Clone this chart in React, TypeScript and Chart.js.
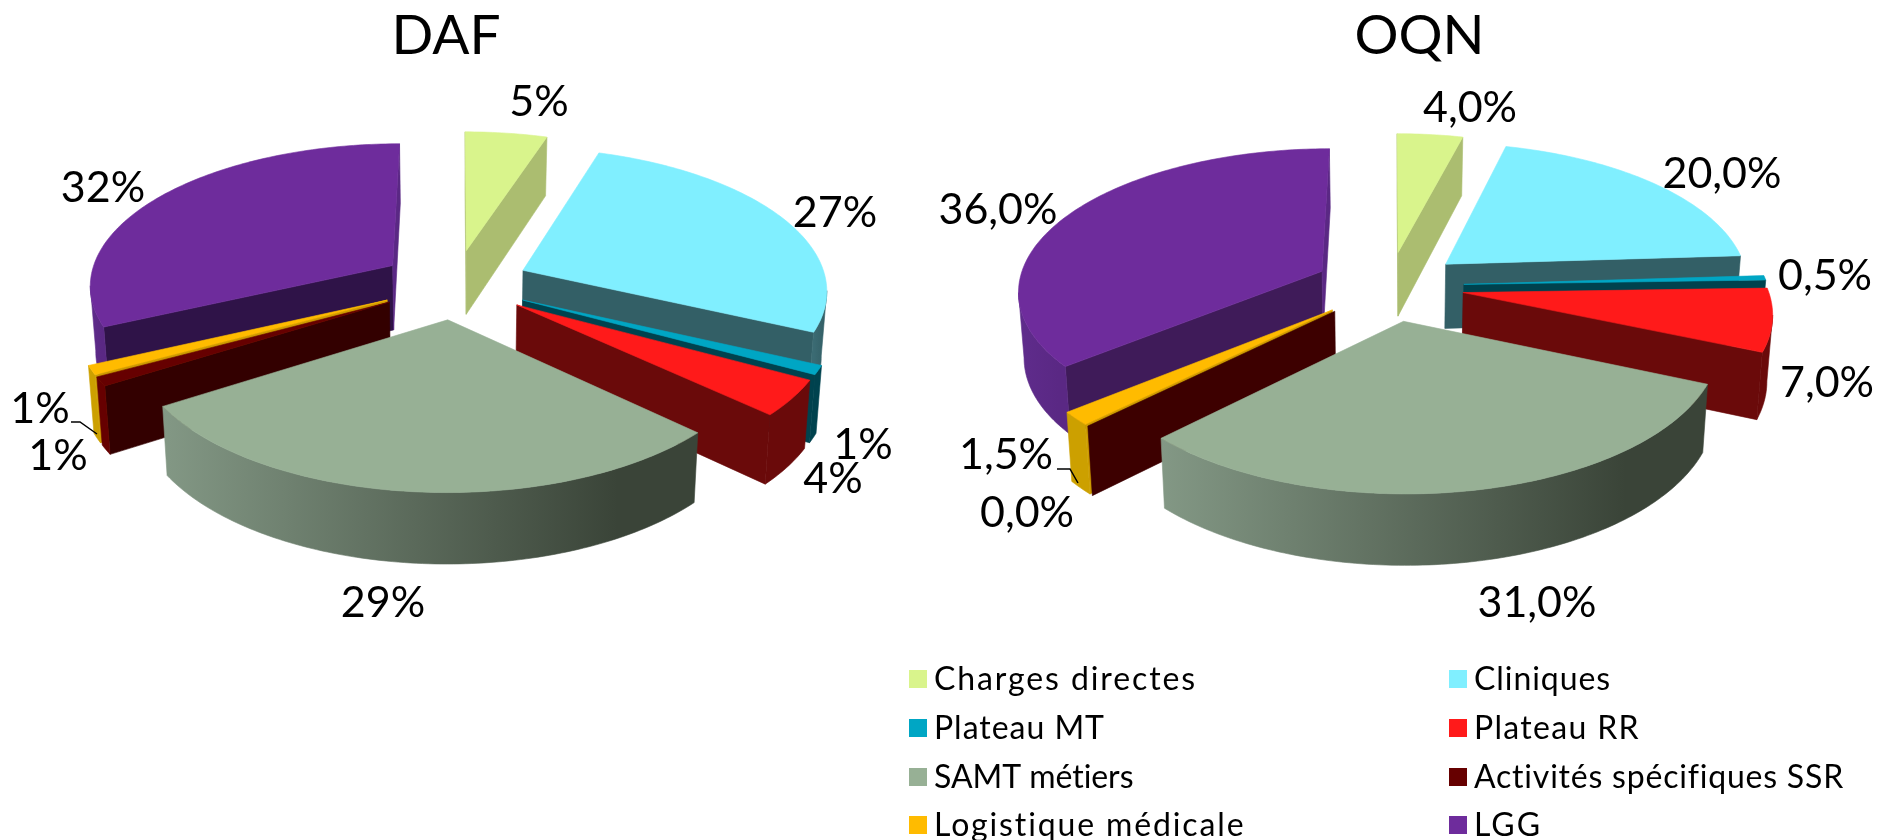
import React, { useEffect, useRef } from "react";
import { Chart, PieController, ArcElement, Title } from "chart.js";

const categories = ["Charges directes", "Cliniques", "Plateau MT", "Plateau RR", "SAMT métiers", "Activités spécifiques SSR", "Logistique médicale", "LGG"];
const dafValues = [5, 27, 1, 4, 29, 1, 1, 32];
const oqnValues = [4, 20, 0.5, 7, 31, 0, 1.5, 36];
const dafLabels = dafValues.map((v) => `${v}%`);
const oqnLabels = oqnValues.map((v) => `${v.toFixed(1).replace(".", ",")}%`);

const topColors = ["#d9f48c", "#80efff", "#00a6c4", "#ff1a1a", "#97b095", "#660000", "#ffbb00", "#6e2c9c"];
const cutStartDaf = ["#abbd70", "#335f66", "#00424e", "#6a0a0a", "#7f9480", "#330000", "#cc9a00", "#2f1348"];
const cutStartOqn = ["#abbd70", "#335f66", "#00424e", "#6a0a0a", "#7f9480", "#3d0000", "#cc9a00", "#3f1b59"];
const cutEnd = ["#abbd70", "#335f66", "#00424e", "#6a0a0a", "#3a4438", "#330000", "#cc9a00", "#5a2884"];
const wallLeft = ["#abbd70", "#3b6b73", "#00424e", "#6a0a0a", "#839885", "#660000", "#cca000", "#5f2c8c"];
const wallRight = ["#abbd70", "#335f66", "#00424e", "#6a0a0a", "#3a4438", "#660000", "#cca000", "#5a2884"];
const legendWidths = [263, 137, 171, 166, 200, 370, 312, 68];

const FONT = "Lato, 'Open Sans', sans-serif";
const PERSPECTIVE = 0.125;
const TILT = 0.465;
const RADIUS = 304;
const EXPLODE = 75;
const DEPTH = 65;

type Pt = { x: number; y: number };

class Pie3DController extends PieController {
  static id = "pie3d";
  static defaults = PieController.defaults;
  static overrides = PieController.overrides;

  draw() {
    const ctx = this.chart.ctx;
    const ds: any = this.getDataset();
    const { cx, cy } = ds.view;
    const arcs: any[] = this.getMeta().data as any[];
    const project = (u: number, v: number): Pt => {
      const s = 1 / (1 - (PERSPECTIVE * v) / RADIUS);
      return { x: cx + u * s, y: cy + TILT * v * s };
    };
    const drop = (p: Pt, v: number): Pt => ({
      x: cx + (p.x - cx) * 0.985,
      y: p.y + DEPTH * (1 + (0.08 * v) / RADIUS),
    });
    const fillPoly = (pts: Pt[], color: any) => {
      ctx.beginPath();
      pts.forEach((p, i) => (i ? ctx.lineTo(p.x, p.y) : ctx.moveTo(p.x, p.y)));
      ctx.closePath();
      ctx.fillStyle = color;
      ctx.fill();
      ctx.strokeStyle = color;
      ctx.lineWidth = 0.6;
      ctx.stroke();
    };
    const order = arcs
      .map((arc, i) => ({ arc, i, mid: Math.sin((arc.startAngle + arc.endAngle) / 2) }))
      .sort((a, b) => a.mid - b.mid);
    ctx.save();
    for (const { arc, i } of order) {
      const a0 = arc.startAngle;
      const a1 = arc.endAngle;
      const m = (a0 + a1) / 2;
      const off = arc.options.offset;
      const ou = off * Math.cos(m);
      const ov = off * Math.sin(m);
      const R = arc.outerRadius;
      const n = Math.max(1, Math.ceil(((a1 - a0) * 180) / Math.PI));
      const rim: { top: Pt; bot: Pt }[] = [];
      for (let k = 0; k <= n; k++) {
        const a = a0 + ((a1 - a0) * k) / n;
        const v = ov + R * Math.sin(a);
        const top = project(ou + R * Math.cos(a), v);
        rim.push({ top, bot: drop(top, v) });
      }
      const apexT = project(ou, ov);
      const apexB = drop(apexT, ov);
      const first = rim[0];
      const last = rim[n];
      if (first.top.x < apexT.x) fillPoly([apexT, first.top, first.bot, apexB], ds.cutStart[i]);
      if (a1 - a0 > 1e-6 && apexT.x < last.top.x) fillPoly([last.top, apexT, apexB, last.bot], cutEnd[i]);
      // outer wall: the runs of the rim that face the viewer
      let run: { top: Pt; bot: Pt }[] = [];
      const flush = () => {
        if (run.length > 1) {
          const g = ctx.createLinearGradient(run[run.length - 1].top.x, 0, run[0].top.x, 0);
          g.addColorStop(0, wallLeft[i]);
          g.addColorStop(0.85, wallRight[i]);
          g.addColorStop(1, wallRight[i]);
          fillPoly([...run.map((r) => r.top), ...run.map((r) => r.bot).reverse()], g);
        }
        run = [];
      };
      for (let k = 0; k < n; k++) {
        if (rim[k + 1].top.x < rim[k].top.x) {
          if (!run.length) run.push(rim[k]);
          run.push(rim[k + 1]);
        } else flush();
      }
      flush();
      if (a1 - a0 > 1e-6) fillPoly([apexT, ...rim.map((r) => r.top)], arc.options.backgroundColor);
    }
    ctx.restore();
  }
}

const valueLabels = {
  id: "valueLabels",
  afterDraw(chart: any) {
    const ds = chart.data.datasets[0];
    const ctx = chart.ctx;
    ctx.save();
    ctx.fillStyle = "#000";
    ctx.font = `43px ${FONT}`;
    ctx.textAlign = "center";
    ctx.textBaseline = "middle";
    ds.valueText.forEach((t: string, i: number) => {
      const [x, y] = ds.valueAt[i];
      ctx.fillText(t, x, y);
    });
    ctx.strokeStyle = "#000";
    ctx.lineWidth = 1.5;
    ctx.beginPath();
    ds.leader.forEach(([x, y]: number[], i: number) => (i ? ctx.lineTo(x, y) : ctx.moveTo(x, y)));
    ctx.stroke();
    ctx.restore();
  },
};

const twoColumnLegend = {
  id: "twoColumnLegend",
  afterDraw(chart: any, _a: any, opts: any) {
    if (!opts.show) return;
    const ctx = chart.ctx;
    ctx.save();
    ctx.font = `32px ${FONT}`;
    ctx.textBaseline = "alphabetic";
    chart.data.labels.forEach((label: string, i: number) => {
      const x = opts.cols[i % 2];
      const y = opts.rows[Math.floor(i / 2)];
      ctx.fillStyle = topColors[i];
      ctx.fillRect(x, y, 18, 18);
      ctx.fillStyle = "#000";
      (ctx as any).letterSpacing = "0px";
      const natural = ctx.measureText(label).width;
      (ctx as any).letterSpacing = `${(legendWidths[i] - natural) / label.length}px`;
      ctx.fillText(label, x + 25, y + 20);
    });
    ctx.restore();
  },
};

Chart.register(Pie3DController, ArcElement, Title);

function usePie(ref: React.RefObject<HTMLCanvasElement | null>, cfg: any) {
  useEffect(() => {
    const chart = new Chart(ref.current as HTMLCanvasElement, {
      type: "pie3d" as any,
      data: {
        labels: categories,
        datasets: [
          {
            data: cfg.values,
            backgroundColor: topColors,
            offset: EXPLODE,
            radius: RADIUS,
            borderWidth: 0,
            cutStart: cfg.cutStart,
            view: cfg.view,
            valueText: cfg.text,
            valueAt: cfg.at,
            leader: cfg.leader,
          } as any,
        ],
      },
      options: {
        animation: false,
        responsive: false,
        maintainAspectRatio: false,
        layout: { padding: { left: cfg.padLeft, right: cfg.padRight, top: 0, bottom: 0 } },
        plugins: {
          legend: { display: false },
          tooltip: { enabled: false },
          title: {
            display: true,
            text: cfg.title,
            fullSize: false,
            color: "#000",
            font: { family: FONT, size: 55, weight: "normal" },
            padding: { top: 3, bottom: 0 },
          },
          twoColumnLegend: cfg.legend,
        } as any,
      },
      plugins: [valueLabels, twoColumnLegend],
    } as any);
    return () => chart.destroy();
  }, []);
}

export default function App() {
  const left = useRef<HTMLCanvasElement>(null);
  const right = useRef<HTMLCanvasElement>(null);
  usePie(left, {
    title: "DAF",
    values: dafValues,
    text: dafLabels,
    padLeft: 0,
    padRight: 8,
    view: { cx: 455, cy: 284 },
    cutStart: cutStartDaf,
    at: [[539, 102], [835, 213], [863, 445], [833, 479], [383, 603], [58, 456], [40, 409], [103, 188]],
    leader: [[71, 422], [80, 422], [97, 434]],
    legend: { show: false },
  });
  usePie(right, {
    title: "OQN",
    values: oqnValues,
    text: oqnLabels,
    padLeft: 60,
    padRight: 0,
    view: { cx: 489, cy: 286 },
    cutStart: cutStartOqn,
    at: [[570, 108], [822, 174], [925, 276], [927, 383], [637, 603], [127, 513], [106, 455], [98, 210]],
    leader: [[157, 469], [170, 469], [178, 483]],
    legend: { show: true, cols: [9, 549], rows: [670, 719, 768, 816] },
  });
  return (
    <div style={{ position: "fixed", left: 0, top: 0, width: 1879, height: 840, overflow: "hidden", background: "#fff" }}>
      <canvas ref={left} width={900} height={840} style={{ position: "absolute", left: 0, top: 0 }} />
      <canvas ref={right} width={979} height={840} style={{ position: "absolute", left: 900, top: 0 }} />
    </div>
  );
}
